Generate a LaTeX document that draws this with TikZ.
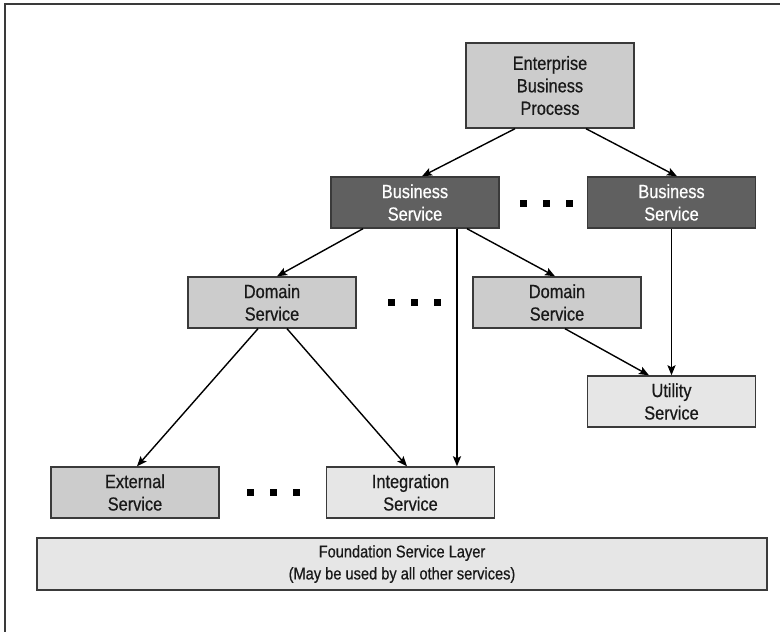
\documentclass[tikz,border=0pt]{standalone}
\usepackage{fontspec}
\setmainfont{Liberation Sans}[FakeStretch=0.86, FakeBold=0.6]
\usetikzlibrary{arrows.meta}
\definecolor{boxline}{HTML}{3A3A3A}
\definecolor{midgray}{HTML}{CCCCCC}
\definecolor{lightgray}{HTML}{E6E6E6}
\definecolor{darkgray}{HTML}{606060}
\tikzset{
  svc/.style={draw=boxline, line width=1.4pt, minimum width=168pt, minimum height=51pt,
    inner sep=0pt, align=center, font=\fontsize{19}{22.5}\selectfont, text=black!90},
  midsvc/.style={svc, fill=midgray},
  lightsvc/.style={svc, fill=lightgray},
  darksvc/.style={svc, fill=darkgray, text=white},
  link/.style={line width=1.4pt, -{Stealth[length=10pt,width=8pt,inset=2pt]}}
}
\newcommand{\dotrow}[2]{% three square bullets, first centre at (#1,#2)
  \foreach \k in {0,1,2}{\fill ({#1+23*\k-3.5},{#2-3.5}) rectangle ++(7,7);}}
\begin{document}
\begin{tikzpicture}[x=1pt, y=-1pt]
  \useasboundingbox (0,0) rectangle (780,632);
  % outer frame (top and left edges)
  \draw[boxline, line width=2pt] (5,632) -- (5,4) -- (780,4);

  % services
  \node[midsvc, minimum height=85pt] (ebp) at (550,85.5) {Enterprise\\Business\\Process};
  \node[darksvc] (bs1) at (415,202.5) {Business\\Service};
  \node[darksvc] (bs2) at (671.5,202.5) {Business\\Service};
  \node[midsvc] (ds1) at (272,302.5) {Domain\\Service};
  \node[midsvc] (ds2) at (557,302.5) {Domain\\Service};
  \node[lightsvc] (util) at (671.5,401.5) {Utility\\Service};
  \node[midsvc] (ext) at (135,492.5) {External\\Service};
  \node[lightsvc] (intg) at (410.5,492.5) {Integration\\Service};
  \node[lightsvc, minimum width=730pt, minimum height=52pt, font=\fontsize{17}{22}\selectfont]
    (found) at (402,564) {Foundation Service Layer\\(May be used by all other services)};

  % ellipses between sibling services
  \dotrow{523.5}{203}
  \dotrow{391.5}{302}
  \dotrow{250}{492}

  % dependencies
  \draw[link] ([xshift=-35pt]ebp.south) -- ([xshift=7pt]bs1.north);
  \draw[link] ([xshift=36pt]ebp.south) -- ([xshift=5.5pt]bs2.north);
  \draw[link] ([xshift=-52pt]bs1.south) -- ([xshift=5pt]ds1.north);
  \draw[link] ([xshift=52pt]bs1.south) -- ([xshift=-2pt]ds2.north);
  \draw[link, line width=1.8pt] ([xshift=42pt]bs1.south) -- ([xshift=46.5pt]intg.north);
  \draw[link, line width=1.7pt] (bs2.south) -- (util.north);
  \draw[link] ([xshift=-14pt]ds1.south) -- ([xshift=2pt]ext.north);
  \draw[link] ([xshift=15pt]ds1.south) -- ([xshift=-3.5pt]intg.north);
  \draw[link] ([xshift=8pt]ds2.south) -- ([xshift=-22.5pt]util.north);
\end{tikzpicture}
\end{document}
